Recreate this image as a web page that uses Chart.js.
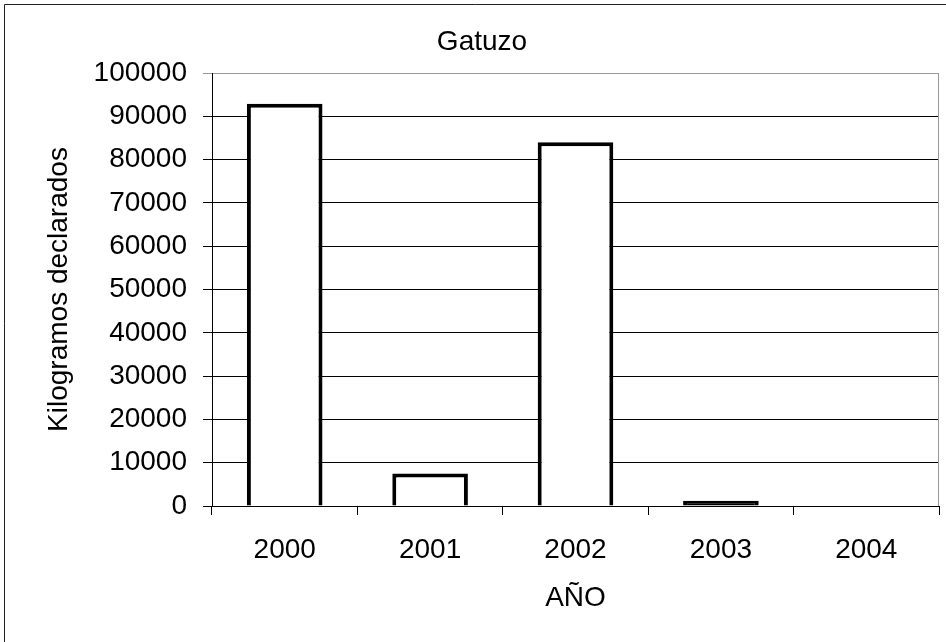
<!DOCTYPE html>
<html>
<head>
<meta charset="utf-8">
<script src="https://cdn.jsdelivr.net/npm/chart.js@4/dist/chart.umd.min.js"></script>
<style>
  html, body { margin: 0; padding: 0; background: #fff; }
  #wrap { width: 946px; height: 642px; }
</style>
</head>
<body>
<div id="wrap"><canvas id="chart" width="946" height="642"></canvas></div>
<script>
// chart data
const years = ['2000', '2001', '2002', '2003', '2004'];
const kilos = [92900, 7500, 84000, 1200, 0];
const chartTitle = 'Gatuzo';
const yTitle = 'Kilogramos declarados';
const xTitle = 'AÑO';

const FONT = 'Liberation Sans, Arial, sans-serif';
const FSIZE = 28;

// frame, title and plot border, drawn like the Excel original
const decor = {
    id: 'decor',
    beforeDraw(chart) {
        const c = chart.ctx;
        c.save();
        c.strokeStyle = '#222';
        c.lineWidth = 1;
        c.beginPath();
        c.moveTo(4.5, 642);
        c.lineTo(4.5, 4.5);
        c.lineTo(946, 4.5);
        c.stroke();
        c.restore();
    },
    afterDraw(chart) {
        const a = chart.chartArea;
        const c = chart.ctx;
        c.save();
        c.strokeStyle = '#999';
        c.lineWidth = 1;
        c.beginPath();
        c.moveTo(a.right - 0.5, a.top);
        c.lineTo(a.right - 0.5, a.bottom);
        c.stroke();
        c.fillStyle = '#000';
        c.font = FSIZE + 'px ' + FONT;
        c.textAlign = 'center';
        c.textBaseline = 'middle';
        c.fillText(chartTitle, 482, 42);
        c.restore();
    }
};

new Chart(document.getElementById('chart'), {
    type: 'bar',
    data: {
        labels: years,
        datasets: [{
            data: kilos,
            // very short bars look solid black in the original (thick outline)
            backgroundColor: ctx => (ctx.raw > 0 && ctx.raw < 2000) ? '#000' : '#fff',
            borderColor: '#000',
            borderWidth: 4,
            barPercentage: 0.52,
            categoryPercentage: 1.0
        }]
    },
    options: {
        responsive: false,
        animation: false,
        layout: { padding: { top: 73, right: 7, left: 0, bottom: 0 } },
        plugins: {
            legend: { display: false },
            tooltip: { enabled: false }
        },
        scales: {
            y: {
                min: 0,
                max: 100000,
                afterFit(s) { s.width = 212; },
                ticks: {
                    stepSize: 10000,
                    color: '#000',
                    padding: 16,
                    font: { family: FONT, size: FSIZE },
                    callback: v => String(v)
                },
                grid: {
                    color: ctx => (ctx.tick && ctx.tick.value === 100000) ? '#999' : '#000',
                    lineWidth: 1,
                    tickLength: 9
                },
                border: { color: '#000', width: 1 },
                title: {
                    display: true,
                    text: yTitle,
                    color: '#000',
                    font: { family: FONT, size: FSIZE },
                    padding: { top: 42, bottom: 0 }
                }
            },
            x: {
                afterFit(s) { s.height = 136; },
                ticks: {
                    color: '#000',
                    padding: 18,
                    font: { family: FONT, size: FSIZE }
                },
                grid: {
                    offset: true,
                    drawOnChartArea: false,
                    color: '#000',
                    tickLength: 9
                },
                border: { color: '#000', width: 1 },
                title: {
                    display: true,
                    text: xTitle,
                    color: '#000',
                    font: { family: FONT, size: FSIZE },
                    padding: { top: 0, bottom: 27 }
                }
            }
        }
    },
    plugins: [decor]
});
</script>
</body>
</html>
